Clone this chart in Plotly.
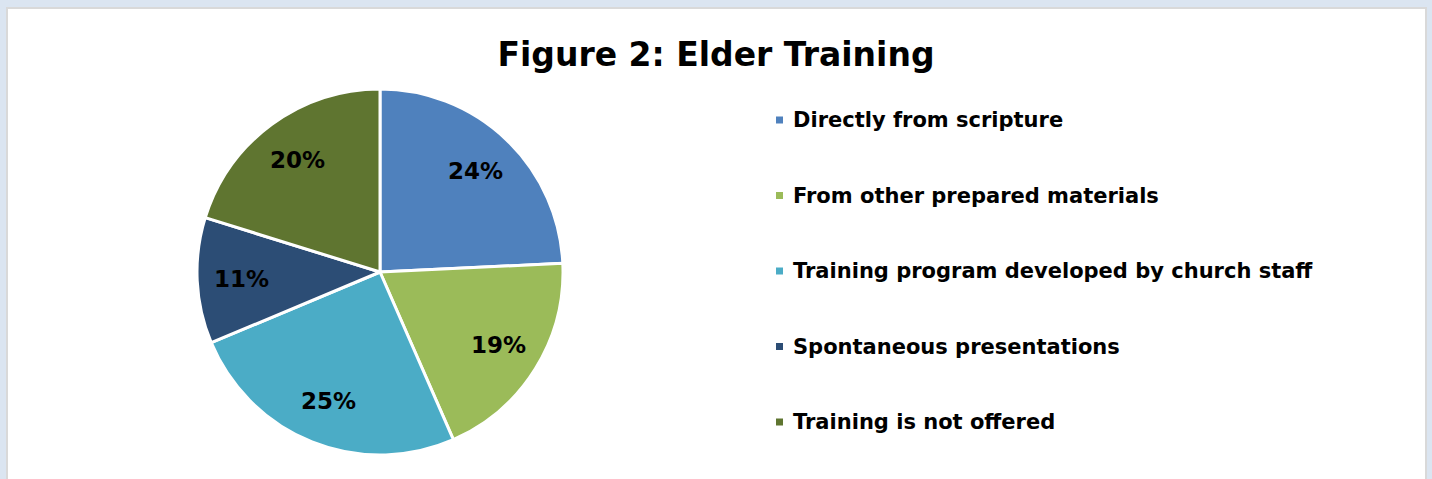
import math
import plotly.graph_objects as go

# data
labels = ["Directly from scripture", "From other prepared materials",
          "Training program developed by church staff",
          "Spontaneous presentations", "Training is not offered"]
values = [24, 19, 25, 11, 20]
colors = ["#4f81bd", "#9bbb59", "#4bacc6", "#2c4d75", "#5f7530"]

W, H = 1432, 479
FONT = "Verdana, DejaVu Sans, sans-serif"
CX, CY, R = 380, 272, 183  # pie centre / radius in pixels

fig = go.Figure()
fig.add_trace(go.Pie(
    labels=labels, values=values, sort=False, direction="clockwise", rotation=0,
    marker=dict(colors=colors, line=dict(color="white", width=3)),
    textinfo="none",
    domain=dict(x=[(CX - R) / W, (CX + R) / W], y=[1 - (CY + R) / H, 1 - (CY - R) / H]),
    showlegend=False, hoverinfo="label+percent",
))

# percentage labels placed at the middle angle of each slice, like Excel's best fit
total = sum(values)
start = 90.0
for v in values:
    sweep = v / total * 360
    mid = math.radians(start - sweep / 2)
    start -= sweep
    px_ = CX + 0.76 * R * math.cos(mid)
    py_ = CY - 0.76 * R * math.sin(mid)
    fig.add_annotation(x=px_ / W, y=1 - py_ / H, xref="paper", yref="paper",
                       text="<b>%d%%</b>" % round(v / total * 100), showarrow=False,
                       xanchor="center", yanchor="middle",
                       font=dict(family=FONT, size=23, color="black"))

# white panel on the light blue background
fig.add_shape(type="rect", xref="paper", yref="paper",
              x0=7 / W, x1=1426 / W, y0=-0.2, y1=1 - 8 / H,
              fillcolor="white", line=dict(color="#d9d9d9", width=2), layer="below")

# legend drawn by hand so the item spacing matches
for i, (lab, col) in enumerate(zip(labels, colors)):
    yc = 120 + i * 75.5
    fig.add_shape(type="rect", xref="paper", yref="paper",
                  x0=776 / W, x1=783 / W, y0=1 - (yc + 3.5) / H, y1=1 - (yc - 3.5) / H,
                  fillcolor=col, line=dict(width=0))
    fig.add_annotation(x=791 / W, y=1 - yc / H, xref="paper", yref="paper",
                       text="<b>" + lab + "</b>", showarrow=False,
                       xanchor="left", yanchor="middle",
                       font=dict(family=FONT, size=21, color="black"))

fig.update_layout(
    width=W, height=H,
    margin=dict(l=0, r=0, t=0, b=0),
    paper_bgcolor="#dbe5f1",
    title=dict(text="<b>Figure 2: Elder Training</b>", x=716 / W, xanchor="center",
               y=1 - 54 / H, yanchor="middle",
               font=dict(family=FONT, size=33, color="black")),
)

fig.write_html("out.html", config={"displayModeBar": False},
               post_script="document.body.style.margin='0';")
